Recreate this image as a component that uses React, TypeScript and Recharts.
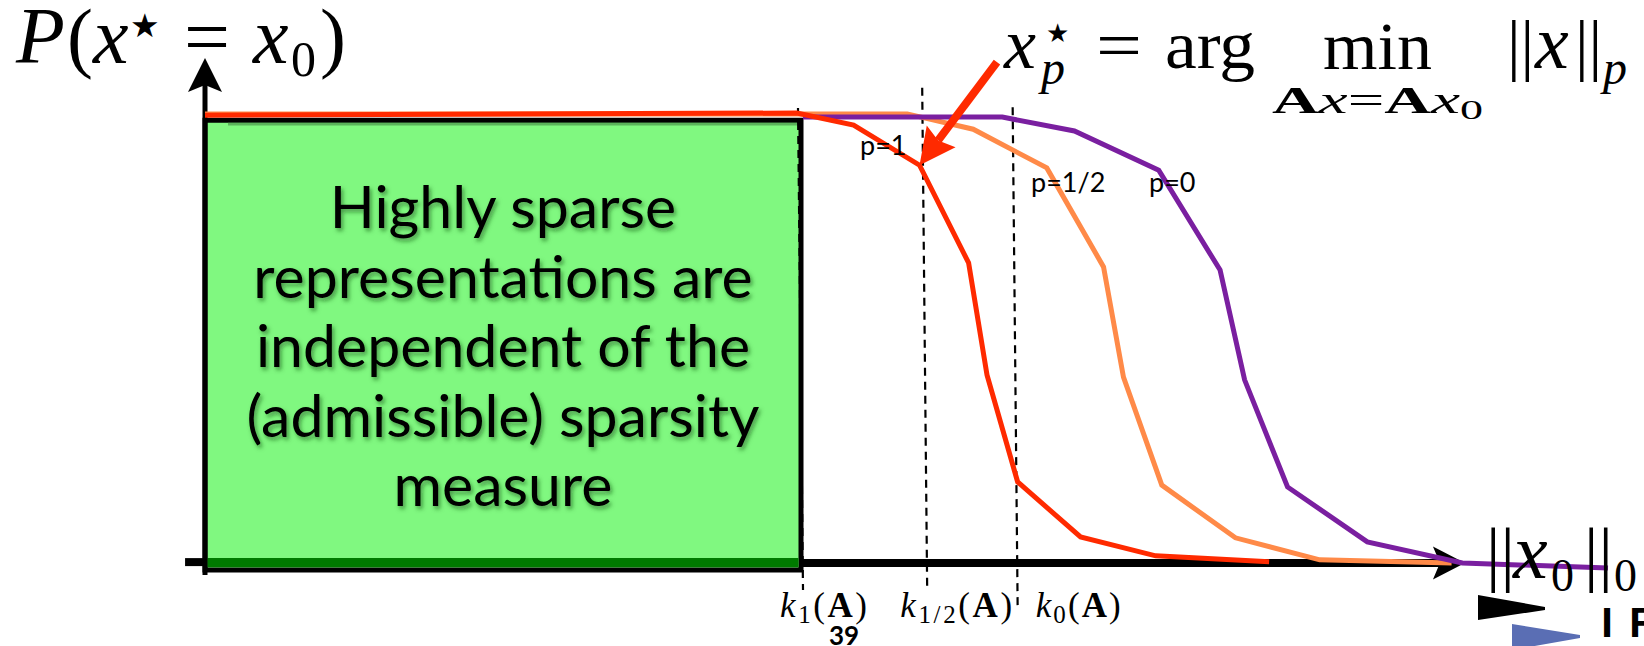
import React from 'react';
import { LineChart, Line, XAxis, YAxis, ReferenceArea, ReferenceLine } from 'recharts';

const WIDTH = 1644;
const HEIGHT = 646;

// Sparsity ||x0||_0 where each recovery curve was sampled, with P(x* = x0) at that level
const sparsityP1 = [0, 38.6, 42.3, 46.6, 49.8, 51.0, 53.0, 57.1, 62.0, 69.4];
const probP1 = [0.995, 1.0, 0.973, 0.884, 0.667, 0.418, 0.18, 0.058, 0.016, 0.003];

const sparsityPHalf = [0, 45.8, 50.1, 54.9, 58.6, 59.9, 62.4, 67.2, 72.7, 81.3];
const probPHalf = [0.998, 0.998, 0.964, 0.878, 0.658, 0.413, 0.173, 0.056, 0.007, 0.0];

const sparsityP0 = [39.0, 52.0, 56.7, 62.2, 66.2, 67.8, 70.6, 75.8, 82.0, 91.5];
const probP0 = [0.991, 0.991, 0.96, 0.873, 0.651, 0.407, 0.169, 0.047, 0.0, -0.011];

// Critical sparsity levels k_p(A) for p = 1, 1/2, 0
const criticalP = ['1', '1/2', '0'];
const criticalK = [39, 47.1, 53.0];
const kTicks = [39];

// Text inside the highly sparse region
const boxLines = [
  'Highly sparse',
  'representations are',
  'independent of the',
  '(admissible) sparsity',
  'measure',
];

const toSeries = (xs: number[], ys: number[]) => xs.map((x, i) => ({ x, p: ys[i] }));
const seriesP1 = toSeries(sparsityP1, probP1);
const seriesPHalf = toSeries(sparsityPHalf, probPHalf);
const seriesP0 = toSeries(sparsityP0, probP0);

const RED = '#FF2A00';
const ORANGE = '#FF8A48';
const PURPLE = '#7A1FA0';
const GREEN = '#80F880';
const DARK_GREEN = '#007A00';
const SERIF = '"Liberation Serif", "DejaVu Serif", serif';
const STAR = '"DejaVu Sans", sans-serif';
const SANS = 'Lato, "Open Sans", sans-serif';

// vertical extent of the dashed k-lines (in probability units) and label offsets
const kLineTop = [1.011, 1.056, 1.013];
const kLineBottom = [-0.06, -0.064, -0.104];
const kLabelDx = [-23, -27, 18];
const kLabelWidth = [87, 112, 85];

type ArrowCfg = { width: number; head: number; half: number; notch: number; color: string };

const arrowShape = (cfg: ArrowCfg) => (props: any) => {
  const { x1, y1, x2, y2 } = props;
  const dx = x2 - x1;
  const dy = y2 - y1;
  const len = Math.hypot(dx, dy) || 1;
  const ux = dx / len;
  const uy = dy / len;
  const nx = -uy;
  const ny = ux;
  const bx = x2 - ux * cfg.head;
  const by = y2 - uy * cfg.head;
  const mx = bx + ux * cfg.notch;
  const my = by + uy * cfg.notch;
  const pts = [
    [x2, y2],
    [bx + nx * cfg.half, by + ny * cfg.half],
    [mx, my],
    [bx - nx * cfg.half, by - ny * cfg.half],
  ];
  return (
    <g>
      <line x1={x1} y1={y1} x2={mx} y2={my} stroke={cfg.color} strokeWidth={cfg.width} />
      <polygon points={pts.map((p) => p.join(',')).join(' ')} fill={cfg.color} />
    </g>
  );
};

const plainSegment = (width: number, color: string) => (props: any) => (
  <line x1={props.x1} y1={props.y1} x2={props.x2} y2={props.y2} stroke={color} strokeWidth={width} />
);

const kLineShape = (i: number) => (props: any) => {
  const { x1, y1, x2, y2 } = props;
  const ppu = (y2 - y1) / (kLineTop[i] - kLineBottom[i]);
  const zeroPx = y2 + kLineBottom[i] * ppu;
  const baseline = zeroPx + 54;
  const sub = criticalP[i];
  return (
    <g>
      <line x1={x1 - 5} y1={y1} x2={x2} y2={y2} stroke="#000" strokeWidth={2.2} strokeDasharray="8 6" />
      <text
        x={x2 + kLabelDx[i]}
        y={baseline}
        fontFamily={SERIF}
        fontSize={35}
        fill="#000"
        textLength={kLabelWidth[i]}
        lengthAdjust="spacing"
      >
        <tspan fontStyle="italic">k</tspan>
        <tspan fontSize={25} dy={6}>{sub}</tspan>
        <tspan dy={-6}>(</tspan>
        <tspan fontWeight="bold">A</tspan>
        <tspan>)</tspan>
      </text>
    </g>
  );
};

const renderKTick = (props: any) => {
  const { x, y, payload } = props;
  return (
    <text x={x + 41} y={y + 56} textAnchor="middle" fontFamily={SANS} fontWeight={700} fontSize={26} fill="#000">
      {payload.value}
    </text>
  );
};

const renderBoxText = (props: any) => {
  const vb = props.viewBox || {};
  const cx = vb.x + vb.width / 2;
  return (
    <g>
      <defs>
        <filter id="boxTextShadow" x="-10%" y="-20%" width="120%" height="140%">
          <feDropShadow dx="2" dy="3" stdDeviation="2" floodColor="#0b4a0b" floodOpacity="0.55" />
        </filter>
      </defs>
      <text fontFamily={SANS} fontSize={59} textAnchor="middle" fill="#000" filter="url(#boxTextShadow)">
        {boxLines.map((l, i) => (
          <tspan key={i} x={cx} y={vb.y + 108 + i * 69.5}>
            {l}
          </tspan>
        ))}
      </text>
    </g>
  );
};

function Annotations() {
  return (
    <svg
      width={WIDTH}
      height={HEIGHT}
      style={{ position: 'absolute', left: 0, top: 0, pointerEvents: 'none' }}
    >
      {/* P(x* = x0) */}
      <g fontFamily={SERIF} fill="#000">
        <text x={16} y={63} fontSize={80} fontStyle="italic">P</text>
        <text x={67} y={63} fontSize={78}>(</text>
        <text x={93} y={63} fontSize={80} fontStyle="italic">x</text>
        <text x={130} y={37} fontSize={33} fontFamily={STAR}>★</text>
        <text x={184} y={63} fontSize={78} textLength={46} lengthAdjust="spacingAndGlyphs">=</text>
        <text x={253} y={63} fontSize={80} fontStyle="italic">x</text>
        <text x={291} y={76} fontSize={50}>0</text>
        <text x={320} y={63} fontSize={78}>)</text>
      </g>

      {/* x_p* = arg min_{Ax = Ax0} ||x||_p */}
      <g fontFamily={SERIF} fill="#000">
        <text x={1004} y={68} fontSize={72} fontStyle="italic">x</text>
        <text x={1046} y={42} fontSize={26} fontFamily={STAR}>★</text>
        <text x={1041} y={84} fontSize={48} fontStyle="italic">p</text>
        <text x={1096} y={68} fontSize={68} textLength={46} lengthAdjust="spacingAndGlyphs">=</text>
        <text x={1165} y={68} fontSize={68} textLength={90} lengthAdjust="spacingAndGlyphs">arg</text>
        <text x={1323} y={69} fontSize={68} textLength={109} lengthAdjust="spacingAndGlyphs">min</text>
        <text x={1272} y={113} fontSize={38} textLength={211} lengthAdjust="spacingAndGlyphs">
          <tspan fontWeight="bold">A</tspan>
          <tspan fontStyle="italic">x</tspan>
          <tspan>=</tspan>
          <tspan fontWeight="bold">A</tspan>
          <tspan fontStyle="italic">x</tspan>
          <tspan fontSize={27} dy={6}>0</tspan>
        </text>
        <text x={1507} y={68} fontSize={68}>||</text>
        <text x={1535} y={68} fontSize={76} fontStyle="italic">x</text>
        <text x={1575} y={68} fontSize={68}>||</text>
        <text x={1603} y={84} fontSize={48} fontStyle="italic">p</text>
      </g>

      {/* ||x0||_0 axis title */}
      <g fontFamily={SERIF} fill="#000">
        <text x={1486} y={578} fontSize={72}>||</text>
        <text x={1513} y={578} fontSize={78} fontStyle="italic">x</text>
        <text x={1551} y={591} fontSize={46}>0</text>
        <text x={1584} y={578} fontSize={72}>||</text>
        <text x={1614} y={591} fontSize={46}>0</text>
      </g>

      {/* curve labels */}
      <g fontFamily={SANS} fontSize={27} fill="#000">
        <text x={860} y={155}>p=1</text>
        <text x={1031} y={192}>p=1/2</text>
        <text x={1149} y={192}>p=0</text>
      </g>

      {/* slide navigation marks */}
      <polygon points="1478,595 1545,607 1545,610 1478,620" fill="#000" />
      <polygon points="1512,624 1580,635 1580,638 1512,650" fill="#5A6EB4" />
      <text x={1601} y={637} fontFamily={SANS} fontWeight={900} fontSize={40} fill="#000">I</text>
      <text x={1629} y={637} fontFamily={SANS} fontWeight={900} fontSize={40} fill="#000">F</text>
    </svg>
  );
}

export default function App() {
  return (
    <div style={{ position: 'absolute', left: 0, top: 0, width: WIDTH, height: HEIGHT, background: '#fff' }}>
      <LineChart width={WIDTH} height={HEIGHT} margin={{ top: 113, right: 13, bottom: 0, left: 205 }}>
        <XAxis
          type="number"
          dataKey="x"
          domain={[0, 93]}
          ticks={kTicks}
          interval={0}
          tick={renderKTick}
          axisLine={false}
          tickLine={false}
          height={65}
        />
        <YAxis hide type="number" domain={[-0.04, 1]} />

        {/* highly sparse region, up to k_1(A) */}
        <ReferenceArea
          x1={0}
          x2={criticalK[0] - 0.13}
          y1={-0.0156}
          y2={0.984}
          fill={GREEN}
          fillOpacity={1}
          stroke="#000"
          strokeWidth={5}
          ifOverflow="visible"
          label={renderBoxText}
        />
        {/* soft shading under the top edge of the region */}
        <ReferenceArea
          x1={1.5}
          x2={criticalK[0] - 0.3}
          y1={0.972}
          y2={0.979}
          fill="#3C7A3C"
          fillOpacity={0.55}
          stroke="none"
          ifOverflow="visible"
        />
        <ReferenceArea
          x1={0.15}
          x2={criticalK[0] - 0.3}
          y1={-0.0089}
          y2={0.0111}
          fill={DARK_GREEN}
          fillOpacity={1}
          stroke="none"
          ifOverflow="visible"
        />

        {/* sparsity axis: short stub left of the origin, then the arrow beyond the region */}
        <ReferenceLine
          segment={[{ x: -1.3, y: 0.002 }, { x: 0, y: 0.002 }]}
          ifOverflow="visible"
          shape={plainSegment(8, '#000')}
        />
        <ReferenceLine
          segment={[{ x: criticalK[0] - 0.2, y: 0 }, { x: 82.17, y: 0 }]}
          ifOverflow="visible"
          shape={arrowShape({ width: 8, head: 32, half: 16.5, notch: 7, color: '#000' })}
        />

        {/* probability axis */}
        <ReferenceLine
          segment={[{ x: 0, y: -0.0267 }, { x: 0, y: 1.1222 }]}
          ifOverflow="visible"
          shape={arrowShape({ width: 5, head: 34, half: 17, notch: 7, color: '#000' })}
        />

        {criticalK.map((k, i) => (
          <ReferenceLine
            key={`k-${i}`}
            segment={[{ x: k, y: kLineTop[i] }, { x: k, y: kLineBottom[i] }]}
            ifOverflow="visible"
            shape={kLineShape(i)}
          />
        ))}

        <Line data={seriesPHalf} dataKey="p" stroke={ORANGE} strokeWidth={5} dot={false} isAnimationActive={false} />
        <Line data={seriesP0} dataKey="p" stroke={PURPLE} strokeWidth={5} dot={false} isAnimationActive={false} />
        <Line data={seriesP1} dataKey="p" stroke={RED} strokeWidth={5} dot={false} isAnimationActive={false} />

        {/* pointer from the minimisation formula to the p=1 curve */}
        <ReferenceLine
          segment={[{ x: 51.65, y: 1.113 }, { x: sparsityP1[3], y: probP1[3] }]}
          ifOverflow="visible"
          shape={arrowShape({ width: 8, head: 36, half: 18, notch: 5, color: RED })}
        />
      </LineChart>
      <Annotations />
    </div>
  );
}
